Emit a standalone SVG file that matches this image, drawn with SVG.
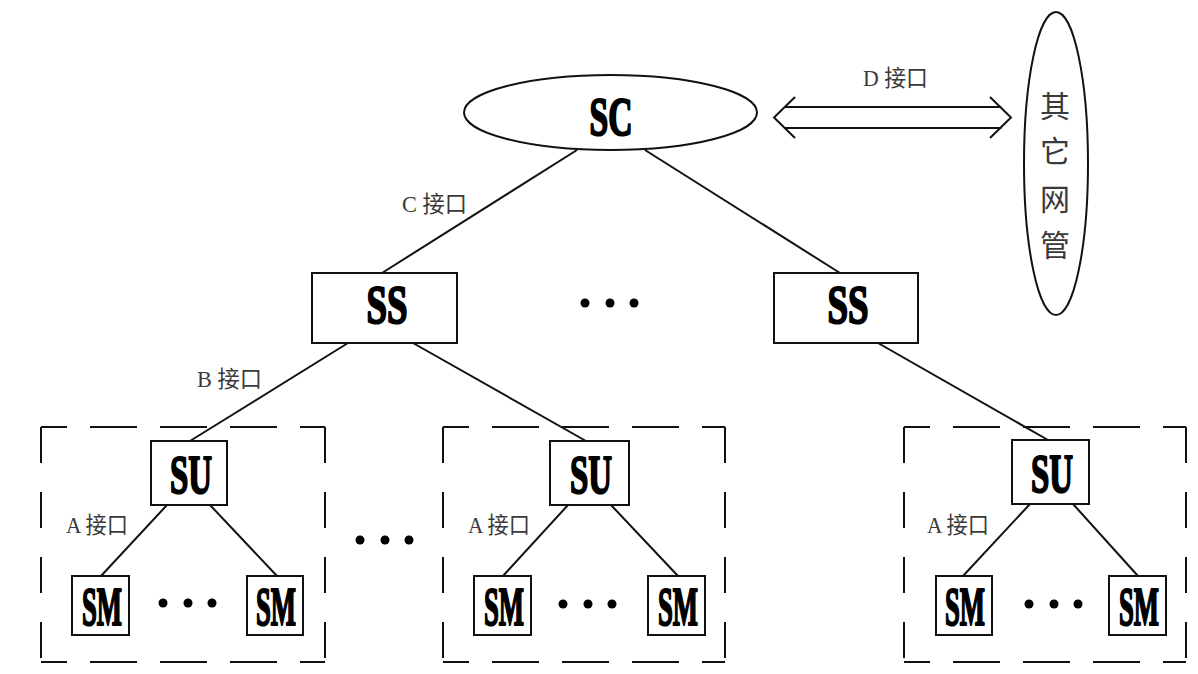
<svg xmlns="http://www.w3.org/2000/svg" width="1198" height="674" viewBox="0 0 1198 674">
<style>
.box{fill:#fff;stroke:#111;stroke-width:2}
.ln{stroke:#111;stroke-width:2;fill:none}
.dh{stroke:#111;stroke-width:2;fill:none;stroke-dasharray:47 23;stroke-dashoffset:21}
.dv{stroke:#111;stroke-width:2;fill:none;stroke-dasharray:36 29}
.nt{font-family:"Liberation Serif","DejaVu Serif",serif;font-weight:bold;font-size:54px;fill:#000;stroke:#000;stroke-width:2.2;stroke-linejoin:round;text-anchor:middle}
.lb{font-family:"Liberation Serif","Noto Sans CJK SC",serif;font-size:23px;fill:#3a3a3a}
.cj{font-family:"Noto Sans CJK SC",sans-serif;font-size:30px;fill:#3a3a3a;text-anchor:middle;dominant-baseline:central}
.dot{fill:#000}
</style>
<rect width="1198" height="674" fill="#fff"/>

<g id="connectors">
<line class="ln" x1="577" y1="150" x2="382" y2="273"/>
<line class="ln" x1="645" y1="150" x2="840" y2="273"/>
<line class="ln" x1="348" y1="343" x2="190" y2="441"/>
<line class="ln" x1="413" y1="343" x2="586" y2="441"/>
<line class="ln" x1="878" y1="343" x2="1048" y2="440"/>
<line class="ln" x1="167" y1="505" x2="101" y2="576"/>
<line class="ln" x1="210" y1="505" x2="277" y2="576"/>
<line class="ln" x1="568" y1="505" x2="503" y2="576"/>
<line class="ln" x1="611" y1="505" x2="678" y2="576"/>
<line class="ln" x1="1030" y1="504" x2="963" y2="576"/>
<line class="ln" x1="1073" y1="504" x2="1138" y2="576"/>
<path id="d-arrow" class="ln" d="M795,97 L774,117.5 L795,138 M784.5,107 L1001.5,107 M784.5,128 L1001.5,128 M990,97 L1011,117.5 L990,138"/>
</g>

<g id="groups">
<g id="group-left">
<path class="dh" d="M41,427 H325 M41,662 H325"/>
<path class="dv" d="M41,427 V662 M325,427 V662"/>
</g>
<g id="group-mid">
<path class="dh" d="M443,427 H725 M443,662 H725"/>
<path class="dv" d="M443,427 V662 M725,427 V662"/>
</g>
<g id="group-right">
<path class="dh" d="M904,427 H1186 M904,662 H1186"/>
<path class="dv" d="M904,427 V662 M1186,427 V662"/>
</g>
</g>

<g id="SC">
<ellipse class="box" cx="610.5" cy="112.5" rx="146.5" ry="37.5"/>
<text class="nt" x="611" y="135" textLength="43" lengthAdjust="spacingAndGlyphs">SC</text>
</g>

<g id="other">
<ellipse class="box" cx="1056" cy="163.5" rx="32" ry="151.5"/>
<text class="cj" x="1055" y="104">其</text>
<text class="cj" x="1055" y="149">它</text>
<text class="cj" x="1055" y="197">网</text>
<text class="cj" x="1055" y="243">管</text>
</g>

<g id="SS-left">
<rect class="box" x="312" y="273" width="145" height="70"/>
<text class="nt" x="387" y="323" textLength="41" lengthAdjust="spacingAndGlyphs">SS</text>
</g>
<g id="SS-right">
<rect class="box" x="774" y="273" width="144" height="70"/>
<text class="nt" x="848" y="323" textLength="41" lengthAdjust="spacingAndGlyphs">SS</text>
</g>

<g id="SU-left">
<rect class="box" x="151" y="441" width="76" height="64"/>
<text class="nt" x="191" y="493" textLength="42" lengthAdjust="spacingAndGlyphs">SU</text>
</g>
<g id="SU-mid">
<rect class="box" x="550" y="441" width="79" height="64"/>
<text class="nt" x="591" y="493" textLength="42" lengthAdjust="spacingAndGlyphs">SU</text>
</g>
<g id="SU-right">
<rect class="box" x="1012" y="440" width="77" height="64"/>
<text class="nt" x="1052" y="492" textLength="42" lengthAdjust="spacingAndGlyphs">SU</text>
</g>

<g id="SM-1"><rect class="box" x="72" y="576" width="57" height="59"/><text class="nt" x="102" y="625" textLength="40" lengthAdjust="spacingAndGlyphs">SM</text></g>
<g id="SM-2"><rect class="box" x="247" y="576" width="56" height="59"/><text class="nt" x="276" y="625" textLength="40" lengthAdjust="spacingAndGlyphs">SM</text></g>
<g id="SM-3"><rect class="box" x="474" y="576" width="57" height="59"/><text class="nt" x="504" y="625" textLength="40" lengthAdjust="spacingAndGlyphs">SM</text></g>
<g id="SM-4"><rect class="box" x="648" y="576" width="57" height="59"/><text class="nt" x="678" y="625" textLength="40" lengthAdjust="spacingAndGlyphs">SM</text></g>
<g id="SM-5"><rect class="box" x="936" y="576" width="56" height="59"/><text class="nt" x="965" y="625" textLength="40" lengthAdjust="spacingAndGlyphs">SM</text></g>
<g id="SM-6"><rect class="box" x="1109" y="576" width="57" height="59"/><text class="nt" x="1139" y="625" textLength="40" lengthAdjust="spacingAndGlyphs">SM</text></g>

<g id="dots">
<circle class="dot" cx="585" cy="303" r="4.5"/><circle class="dot" cx="610" cy="303" r="4.5"/><circle class="dot" cx="634" cy="303" r="4.5"/>
<circle class="dot" cx="360" cy="540" r="4.5"/><circle class="dot" cx="385" cy="540" r="4.5"/><circle class="dot" cx="409" cy="540" r="4.5"/>
<circle class="dot" cx="163" cy="603" r="4.5"/><circle class="dot" cx="188" cy="603" r="4.5"/><circle class="dot" cx="212" cy="603" r="4.5"/>
<circle class="dot" cx="563" cy="604" r="4.5"/><circle class="dot" cx="588" cy="604" r="4.5"/><circle class="dot" cx="612" cy="604" r="4.5"/>
<circle class="dot" cx="1029" cy="604" r="4.5"/><circle class="dot" cx="1054" cy="604" r="4.5"/><circle class="dot" cx="1078" cy="604" r="4.5"/>
</g>

<g id="labels">
<text class="lb" x="863" y="86" textLength="65" lengthAdjust="spacingAndGlyphs">D 接口</text>
<text class="lb" x="402" y="212" textLength="65" lengthAdjust="spacingAndGlyphs">C 接口</text>
<text class="lb" x="197" y="387" textLength="65" lengthAdjust="spacingAndGlyphs">B 接口</text>
<text class="lb" x="66" y="533" textLength="62" lengthAdjust="spacingAndGlyphs">A 接口</text>
<text class="lb" x="468" y="533" textLength="62" lengthAdjust="spacingAndGlyphs">A 接口</text>
<text class="lb" x="927" y="533" textLength="62" lengthAdjust="spacingAndGlyphs">A 接口</text>
</g>
</svg>
